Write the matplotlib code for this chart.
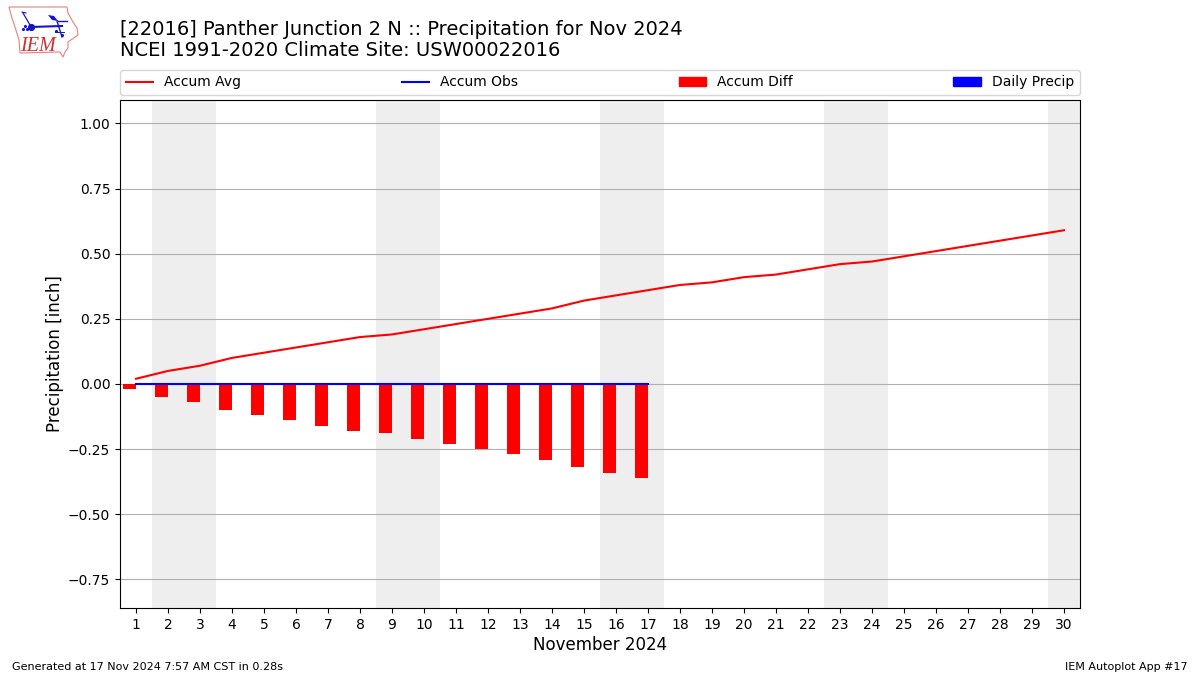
import matplotlib
matplotlib.use("Agg")
import matplotlib.pyplot as plt
from matplotlib.patches import Patch, Polygon
from matplotlib.lines import Line2D

days = list(range(1, 31))
accum_avg = [0.02,0.05,0.07,0.10,0.12,0.14,0.16,0.18,0.19,0.21,0.23,0.25,0.27,0.29,0.32,0.34,0.36,0.38,0.39,0.41,0.42,0.44,0.46,0.47,0.49,0.51,0.53,0.55,0.57,0.59]
obs_days = list(range(1, 18))
accum_obs = [0.0]*17
accum_diff = [-0.02,-0.05,-0.07,-0.10,-0.12,-0.14,-0.16,-0.18,-0.19,-0.21,-0.23,-0.25,-0.27,-0.29,-0.32,-0.34,-0.36]
daily_precip = [0.0]*17
weekend_starts = [1.5, 8.5, 15.5, 22.5, 29.5]
yticks = [-0.75,-0.50,-0.25,0.0,0.25,0.50,0.75,1.00]

fig = plt.figure(figsize=(12, 6.75), dpi=100)
ax = fig.add_axes([0.1, 67/675, 0.8, 508/675])
for s in weekend_starts:
    ax.axvspan(s, s+2, color="#eeeeee", lw=0, zorder=0)
ax.bar([d-0.2 for d in obs_days], accum_diff, width=0.4, color="red", zorder=2)
ax.bar([d+0.2 for d in obs_days], daily_precip, width=0.4, color="blue", zorder=2)
ax.plot(days, accum_avg, color="red", lw=1.5, zorder=3)
ax.plot(obs_days, accum_obs, color="blue", lw=1.5, zorder=3)
ax.set_xlim(0.5, 30.5)
ax.set_ylim(-0.86, 1.09)
ax.set_xticks(days)
ax.set_yticks(yticks)
ax.set_yticklabels(["\u22120.75","\u22120.50","\u22120.25","0.00","0.25","0.50","0.75","1.00"])
ax.tick_params(labelsize=10)
ax.yaxis.grid(True, color="#b0b0b0", lw=0.8, zorder=1)
ax.set_axisbelow(True)
ax.set_ylabel("Precipitation [inch]", fontsize=12, labelpad=3)
ax.set_xlabel("November 2024", fontsize=12, labelpad=3)

fig.text(0.1, 1-29.5/675, "[22016] Panther Junction 2 N :: Precipitation for Nov 2024", fontsize=14, va="center")
fig.text(0.1, 1-51/675, "NCEI 1991-2020 Climate Site: USW00022016", fontsize=14, va="center")
fig.text(0.01, 0.0125, "Generated at 17 Nov 2024 7:57 AM CST in 0.28s", fontsize=8, va="center")
fig.text(0.99, 0.0125, "IEM Autoplot App #17", fontsize=8, va="center", ha="right")

handles = [Line2D([],[],color="red",lw=1.5), Line2D([],[],color="blue",lw=1.5), Patch(color="red"), Patch(color="blue")]
ax.legend(handles, ["Accum Avg","Accum Obs","Accum Diff","Daily Precip"], ncol=4, mode="expand",
          loc="lower left", bbox_to_anchor=(0, 1+5/508, 1, 0.05), fontsize=10, borderaxespad=0)

# IEM logo drawn in figure pixel coordinates
def P(x, y):
    return (x/1200, 1-y/675)
outline = [(9,7),(67,7),(68,13),(73,22),(77,28),(78,35),(68,42),(68,48),(65,52),(63,57),(60,52),(20,53),(19,40),(15,27),(12,18)]
fig.add_artist(Polygon([P(*p) for p in outline], closed=True, fill=False, ec="#e88080", lw=0.8, transform=fig.transFigure))
for seg, lw in [([(31,27),(62,26)],1.5),([(57,21),(62,37)],1.0),([(58,21),(67,21)],1.0),
                ([(30,25),(23,13)],0.9),([(22,12),(26,13)],0.8),([(55,32),(64,32)],0.7)]:
    fig.add_artist(Line2D(*zip(*[P(*p) for p in seg]), color="#1515d0", lw=lw, transform=fig.transFigure))
fig.add_artist(Polygon([P(48,15),P(54,16),P(58,21),P(52,20)], closed=True, fc="#1515d0", ec="none", transform=fig.transFigure))
cx, cy = P(31, 27)
fig.add_artist(Line2D([cx], [cy], marker="o", ms=4.2, color="#1515d0", ls="none", transform=fig.transFigure))
dots = [P(23,29), P(27,29), P(25,26), P(56,31), P(62,35)]
fig.add_artist(Line2D([d[0] for d in dots], [d[1] for d in dots], marker=".", ms=2.5, color="#1515d0", ls="none", transform=fig.transFigure))
fig.text(*P(37.5,46.5), "IEM", family="Liberation Serif", style="italic", fontsize=14.5, color="#d03030", ha="center", va="center")

fig.savefig("out.png", dpi=100)
